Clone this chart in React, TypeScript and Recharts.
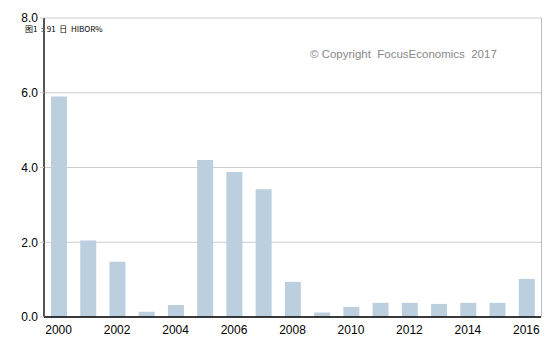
import React from 'react';
import { BarChart, Bar, XAxis, YAxis, CartesianGrid } from 'recharts';

const years = ['2000','2001','2002','2003','2004','2005','2006','2007','2008','2009','2010','2011','2012','2013','2014','2015','2016'];
const hibor = [5.9, 2.05, 1.48, 0.14, 0.32, 4.2, 3.88, 3.42, 0.94, 0.12, 0.27, 0.38, 0.38, 0.35, 0.38, 0.38, 1.02];
const yTicks = [0, 2, 4, 6, 8];

const data = years.map((y, i) => ({ year: y, value: hibor[i] }));

const font = '"Liberation Sans", Arial, sans-serif';

export default function App() {
  return (
    <div style={{ position: 'absolute', left: 0, top: 0, width: 556, height: 352, background: '#fff' }}>
      <BarChart width={556} height={352} data={data} margin={{ top: 18, right: 15, bottom: 8, left: 0 }} barSize={16}>
        <CartesianGrid vertical={false} stroke="#cccccc" />
        <XAxis
          dataKey="year"
          interval={1}
          tickLine={false}
          axisLine={{ stroke: '#000', strokeWidth: 1.5 }}
          tick={{ fill: '#000', fontSize: 12, fontFamily: font }}
          height={27}
        />
        <YAxis
          domain={[0, 8]}
          ticks={yTicks}
          width={44}
          tickFormatter={(v: number) => v.toFixed(1)}
          axisLine={{ stroke: '#555', strokeWidth: 2 }}
          tickLine={{ stroke: '#ccc' }}
          tickSize={4}
          tick={{ fill: '#000', fontSize: 12, fontFamily: font }}
        />
        <Bar dataKey="value" fill="#bccfdf" isAnimationActive={false} />
      </BarChart>
      <div style={{ position: 'absolute', left: 541, top: 18, width: 1, height: 299, background: '#bbb' }} />
      <div style={{ position: 'absolute', left: 25, top: 25, fontSize: 8, lineHeight: '8px', fontFamily: '"Noto Sans CJK SC", sans-serif', color: '#000', whiteSpace: 'pre' }}>
        {'图1  :  91  日  HIBOR%'}
      </div>
      <div style={{ position: 'absolute', left: 310, top: 48, fontSize: 11.5, fontFamily: font, color: '#888', whiteSpace: 'pre' }}>
        {'© Copyright  FocusEconomics  2017'}
      </div>
    </div>
  );
}
